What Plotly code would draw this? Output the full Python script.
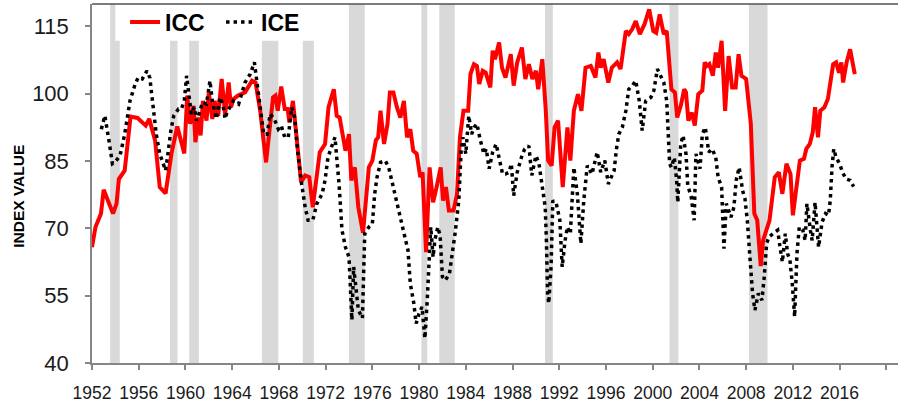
import plotly.graph_objects as go

# ---- data ----
icc_year = [1952.0, 1952.3, 1952.77, 1953.0, 1953.8, 1954.1, 1954.3, 1954.8, 1955.3, 1955.9,
            1956.6, 1956.9, 1957.4, 1957.8, 1958.3, 1958.8, 1959.3, 1959.9, 1960.15, 1960.4,
            1960.7, 1960.85, 1961.1, 1961.3, 1961.5, 1961.8, 1962.0, 1962.3, 1962.5, 1962.8,
            1963.1, 1963.4, 1963.7, 1963.9, 1964.1, 1964.5, 1965.1, 1965.7, 1966.0, 1966.4,
            1966.9, 1967.25, 1967.5, 1967.7, 1967.9, 1968.2, 1968.5, 1968.75, 1968.9, 1969.2,
            1969.4, 1969.7, 1969.9, 1970.25, 1970.6, 1970.9, 1971.25, 1971.5, 1971.95, 1972.25,
            1972.7, 1972.95, 1973.2, 1973.7, 1974.0, 1974.2, 1974.5, 1974.8, 1975.2, 1975.35,
            1975.7, 1976.0, 1976.3, 1976.5, 1976.7, 1977.0, 1977.3, 1977.5, 1977.8, 1978.1,
            1978.4, 1978.7, 1978.97, 1979.25, 1979.5, 1979.8, 1980.1, 1980.3, 1980.6, 1980.9,
            1981.2, 1981.5, 1981.85, 1982.05, 1982.3, 1982.55, 1982.95, 1983.25, 1983.5, 1983.8,
            1984.2, 1984.4, 1984.7, 1984.95, 1985.15, 1985.45, 1985.7, 1986.1, 1986.3, 1986.5,
            1986.85, 1987.1, 1987.4, 1987.85, 1988.1, 1988.4, 1988.8, 1989.1, 1989.4, 1989.7,
            1990.0, 1990.2, 1990.55, 1990.85, 1991.05, 1991.35, 1991.6, 1991.9, 1992.3, 1992.7,
            1992.95, 1993.25, 1993.6, 1993.9, 1994.25, 1994.7, 1995.1, 1995.35, 1995.55, 1995.8,
            1996.2, 1996.5, 1996.95, 1997.25, 1997.7, 1997.95, 1998.25, 1998.55, 1998.9, 1999.3,
            1999.7, 2000.05, 2000.3, 2000.6, 2000.95, 2001.2, 2001.45, 2001.6, 2001.9, 2002.1,
            2002.4, 2002.7, 2002.85, 2003.05, 2003.35, 2003.6, 2003.9, 2004.25, 2004.45, 2004.65,
            2004.85, 2005.15, 2005.4, 2005.6, 2005.9, 2006.2, 2006.5, 2006.8, 2007.1, 2007.35,
            2007.6, 2008.0, 2008.4, 2008.7, 2008.95, 2009.25, 2009.45, 2009.7, 2010.0, 2010.45,
            2010.8, 2011.1, 2011.45, 2011.8, 2012.0, 2012.6, 2012.95, 2013.15, 2013.45, 2013.7,
            2013.9, 2014.15, 2014.35, 2014.7, 2015.0, 2015.45, 2015.7, 2015.95, 2016.15, 2016.3,
            2016.6, 2016.9, 2017.3]
icc_value = [65.8, 70.3, 73.3, 78.6, 73.3, 75.5, 81.0, 82.9, 94.9, 94.6,
             92.9, 94.4, 89.6, 79.2, 77.8, 86.6, 92.7, 86.7, 99.6, 93.3,
             97.3, 89.2, 94.7, 90.7, 98.4, 94.0, 100.3, 94.4, 98.4, 95.1,
             103.3, 95.5, 102.5, 97.0, 98.8, 99.6, 100.3, 102.9, 102.5, 96.2,
             84.7, 93.3, 99.2, 99.6, 96.2, 101.6, 96.6, 96.6, 93.6, 98.4,
             93.3, 85.8, 80.3, 81.8, 81.4, 74.7, 82.1, 87.0, 88.8, 97.0,
             101.0, 95.1, 94.7, 87.3, 91.0, 80.7, 83.6, 74.7, 69.0, 74.0,
             83.6, 85.1, 89.6, 90.3, 96.2, 88.8, 93.3, 100.3, 100.3, 97.0,
             94.7, 98.4, 90.3, 92.1, 87.3, 86.6, 81.4, 82.5, 64.7, 83.6,
             75.8, 79.2, 83.6, 76.2, 79.2, 74.0, 74.0, 77.7, 90.3, 96.2,
             96.2, 104.4, 106.6, 106.2, 102.2, 105.1, 104.7, 101.4, 109.6, 107.7,
             111.4, 105.8, 103.6, 108.8, 101.8, 107.0, 110.3, 103.3, 106.6, 103.3,
             105.1, 101.0, 107.7, 96.2, 85.1, 84.0, 92.5, 94.0, 79.2, 92.5,
             85.1, 96.2, 99.9, 96.2, 105.8, 106.2, 103.6, 109.2, 105.8, 107.7,
             102.5, 105.8, 107.0, 105.5, 114.0, 113.3, 114.4, 116.2, 113.3, 115.5,
             118.8, 114.0, 113.6, 117.7, 113.3, 114.0, 107.3, 101.0, 100.3, 94.7,
             97.3, 101.0, 100.3, 94.0, 95.8, 92.9, 99.9, 100.7, 107.0, 106.2,
             106.6, 104.0, 109.2, 105.8, 111.8, 96.2, 108.4, 101.4, 101.4, 108.8,
             104.0, 103.3, 93.3, 73.3, 71.8, 61.6, 67.3, 69.6, 71.8, 81.4,
             82.5, 77.7, 84.4, 82.1, 72.9, 85.1, 85.5, 87.7, 88.8, 91.4,
             97.0, 90.3, 96.2, 97.0, 98.9, 106.6, 107.0, 104.7, 107.0, 102.5,
             107.0, 109.9, 104.4]

ice_year = [1952.8, 1953.1, 1953.45, 1953.75, 1953.95, 1954.4, 1954.8, 1955.25, 1955.7, 1955.95,
            1956.3, 1956.7, 1956.95, 1957.25, 1957.5, 1957.8, 1958.1, 1958.3, 1958.5, 1958.75,
            1959.0, 1959.4, 1959.65, 1959.9, 1960.1, 1960.3, 1960.5, 1960.75, 1960.95, 1961.25,
            1961.45, 1961.8, 1962.1, 1962.3, 1962.65, 1962.95, 1963.2, 1963.4, 1963.55, 1964.1,
            1964.55, 1965.1, 1965.55, 1965.9, 1966.1, 1966.4, 1966.7, 1967.0, 1967.25, 1967.6,
            1967.95, 1968.2, 1968.5, 1968.8, 1969.1, 1969.35, 1969.6, 1969.9, 1970.25, 1970.5,
            1970.9, 1971.25, 1971.7, 1971.95, 1972.2, 1972.5, 1972.8, 1972.95, 1973.15, 1973.4,
            1973.7, 1974.0, 1974.25, 1974.4, 1974.6, 1974.8, 1975.15, 1975.35, 1975.7, 1976.0,
            1976.2, 1976.4, 1976.7, 1977.1, 1977.4, 1977.85, 1978.25, 1978.7, 1979.05, 1979.25,
            1979.55, 1979.75, 1980.0, 1980.25, 1980.5, 1980.7, 1980.85, 1981.0, 1981.2, 1981.35,
            1981.6, 1981.8, 1982.0, 1982.25, 1982.6, 1982.9, 1983.1, 1983.4, 1983.6, 1983.75,
            1984.0, 1984.25, 1984.5, 1984.7, 1984.95, 1985.25, 1985.55, 1985.75, 1986.0, 1986.3,
            1986.6, 1986.9, 1987.15, 1987.4, 1987.7, 1987.9, 1988.1, 1988.4, 1988.85, 1989.05,
            1989.4, 1989.65, 1990.0, 1990.25, 1990.55, 1990.8, 1990.9, 1991.0, 1991.1, 1991.3,
            1991.45, 1991.75, 1992.05, 1992.25, 1992.5, 1992.7, 1992.95, 1993.25, 1993.55, 1993.85,
            1994.1, 1994.4, 1994.8, 1995.25, 1995.55, 1995.9, 1996.2, 1996.7, 1996.9, 1997.1,
            1997.4, 1997.7, 1997.95, 1998.25, 1998.55, 1998.85, 1999.1, 1999.4, 1999.85, 2000.1,
            2000.4, 2000.8, 2000.95, 2001.2, 2001.3, 2001.45, 2001.6, 2001.85, 2002.05, 2002.15,
            2002.4, 2002.6, 2002.85, 2003.0, 2003.3, 2003.55, 2003.7, 2004.05, 2004.25, 2004.5,
            2004.8, 2005.1, 2005.4, 2005.6, 2005.9, 2006.1, 2006.3, 2006.7, 2006.95, 2007.15,
            2007.4, 2007.7, 2007.9, 2008.1, 2008.3, 2008.55, 2008.75, 2009.05, 2009.35, 2009.55,
            2009.75, 2009.95, 2010.3, 2010.7, 2010.9, 2011.1, 2011.35, 2011.55, 2011.75, 2011.95,
            2012.15, 2012.35, 2012.55, 2012.85, 2013.05, 2013.2, 2013.5, 2013.65, 2013.9, 2014.05,
            2014.2, 2014.5, 2014.8, 2015.05, 2015.2, 2015.35, 2015.5, 2015.7, 2016.0, 2016.25,
            2016.55, 2016.9, 2017.2]
ice_value = [92.1, 95.1, 89.6, 84.4, 84.7, 86.2, 91.0, 98.4, 102.2, 103.6,
             103.3, 105.1, 103.6, 97.0, 91.0, 86.6, 84.4, 82.9, 86.6, 91.8,
             95.1, 96.6, 96.6, 98.4, 104.0, 99.9, 95.5, 97.0, 94.0, 96.2,
             98.1, 97.7, 102.9, 98.4, 94.4, 99.2, 97.7, 94.4, 95.8, 98.4,
             97.7, 102.5, 104.4, 107.0, 102.9, 96.2, 91.0, 91.0, 95.5, 94.4,
             92.1, 92.9, 90.3, 90.3, 97.0, 94.7, 87.3, 80.7, 74.7, 71.8,
             71.8, 75.5, 77.7, 80.7, 85.8, 88.1, 90.3, 85.8, 79.9, 69.6,
             65.8, 63.6, 49.6, 61.4, 57.0, 51.8, 50.0, 68.8, 70.3, 71.0,
             77.7, 81.4, 84.7, 85.1, 83.6, 78.4, 74.0, 68.8, 65.1, 57.7,
             53.3, 48.8, 51.0, 52.5, 45.5, 54.0, 61.4, 70.3, 63.6, 67.3,
             70.3, 68.4, 59.2, 58.4, 59.9, 65.1, 69.2, 76.2, 87.3, 90.3,
             86.6, 95.1, 91.0, 92.5, 93.3, 89.6, 86.6, 87.7, 83.3, 87.0,
             88.8, 85.1, 82.1, 82.1, 82.5, 84.4, 77.3, 82.5, 86.6, 87.7,
             88.4, 81.8, 86.2, 84.7, 79.9, 74.7, 67.3, 55.5, 53.3, 61.4,
             76.2, 75.5, 71.8, 61.4, 67.3, 70.3, 68.8, 83.6, 77.7, 66.6,
             76.2, 84.0, 82.1, 87.0, 82.5, 85.1, 79.9, 82.9, 87.7, 91.0,
             92.5, 96.2, 101.0, 101.8, 102.9, 98.4, 91.8, 98.4, 99.2, 100.7,
             105.5, 103.6, 102.5, 98.4, 91.0, 84.4, 83.6, 85.8, 80.7, 75.8,
             88.8, 90.7, 86.6, 79.6, 77.0, 71.8, 86.6, 83.3, 91.0, 92.5,
             87.0, 87.7, 85.8, 81.4, 79.2, 65.5, 75.5, 72.5, 74.7, 80.7,
             83.6, 78.4, 76.6, 71.8, 64.4, 55.5, 51.8, 55.5, 54.0, 59.2,
             66.6, 68.1, 68.8, 69.6, 65.8, 62.5, 68.8, 64.4, 62.9, 57.7,
             50.3, 64.4, 70.3, 69.6, 67.3, 75.5, 69.6, 67.3, 75.8, 70.3,
             65.8, 71.4, 73.3, 72.9, 76.2, 83.6, 87.7, 85.8, 84.4, 82.5,
             81.0, 80.7, 79.3]

recession_start = [1953.55, 1958.68, 1960.32, 1966.54, 1970.05, 1974.0, 1980.2, 1981.73, 1990.78, 2001.44, 2008.25]
recession_end = [1954.38, 1959.32, 1961.15, 1967.95, 1970.99, 1975.35, 1980.7, 1983.05, 1991.45, 2002.2, 2009.83]

x_ticks = list(range(1952, 2021, 4))
x_tick_labels = [str(y) if y <= 2016 else "" for y in x_ticks]
y_ticks = [40, 55, 70, 85, 100, 115]

FONT = "Arial, Liberation Sans, sans-serif"

fig = go.Figure()

fig.add_trace(go.Scatter(
    x=icc_year, y=icc_value, mode="lines", name="<b>ICC</b>",
    line=dict(color="#FF0000", width=4),
))
fig.add_trace(go.Scatter(
    x=ice_year, y=ice_value, mode="lines", name="<b>ICE</b>",
    line=dict(color="#000000", width=3.5, dash="3.5px,4px"),
))

shapes = []
for s, e in zip(recession_start, recession_end):
    shapes.append(dict(type="rect", xref="x", yref="y", x0=s, x1=e, y0=40, y1=120,
                       fillcolor="#D9D9D9", line=dict(width=0), layer="below"))
# white legend background patch (covers bar tops behind the legend)
shapes.append(dict(type="rect", xref="x", yref="y", x0=1954.0, x1=1972.8, y0=111.8, y1=120,
                   fillcolor="white", line=dict(width=0), layer="below"))
# top frame line
shapes.append(dict(type="line", xref="paper", yref="paper", x0=0, x1=1, y0=1, y1=1,
                   line=dict(color="#505050", width=1.5)))

fig.update_layout(
    width=899, height=402,
    margin=dict(l=92, r=1, t=4, b=39, autoexpand=False),
    paper_bgcolor="white", plot_bgcolor="white",
    font=dict(family=FONT, color="#1a1a1a"),
    shapes=shapes,
    showlegend=True,
    legend=dict(orientation="h", x=0.041, xanchor="left", y=0.95, yanchor="middle",
                bgcolor="rgba(0,0,0,0)", font=dict(size=23, family=FONT, color="black"),
                entrywidth=51, itemwidth=30, tracegroupgap=0),
    xaxis=dict(range=[1952, 2021], tickvals=x_ticks, ticktext=x_tick_labels, automargin=False,
               showgrid=False, zeroline=False, showline=True, linecolor="#868686", linewidth=1.5,
               ticks="outside", ticklen=5, tickcolor="#868686", tickwidth=1.5,
               tickfont=dict(size=17.5, family=FONT, color="#1a1a1a"), ticklabelstandoff=8),
    yaxis=dict(range=[40, 120], tickvals=y_ticks, automargin=False,
               showgrid=False, zeroline=False, showline=True, linecolor="#868686", linewidth=1.5,
               ticks="outside", ticklen=5, tickcolor="#868686", tickwidth=1.5,
               tickfont=dict(size=22, family=FONT, color="#1a1a1a"), ticklabelstandoff=12),
    annotations=[dict(text="<b>INDEX VALUE</b>", xref="paper", yref="paper",
                      x=-0.0914, y=0.464, textangle=-90, showarrow=False,
                      font=dict(size=15.5, family=FONT, color="black"),
                      xanchor="center", yanchor="middle")],
)

fig.write_html("out.html", config={"displayModeBar": False},
               post_script="document.body.style.margin='0';document.body.style.overflow='hidden';")
